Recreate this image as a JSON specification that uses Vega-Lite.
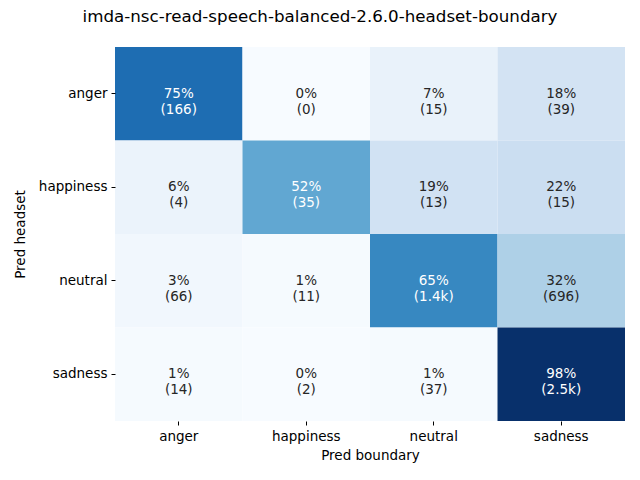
{
  "$schema": "https://vega.github.io/schema/vega-lite/v6.json",
  "width": 510,
  "height": 374,
  "autosize": "none",
  "padding": {"left": 115, "top": 47, "right": 15, "bottom": 59},
  "title": {"text": "imda-nsc-read-speech-balanced-2.6.0-headset-boundary", "fontSize": 16.7, "font": "DejaVu Sans", "fontWeight": "normal", "color": "black", "offset": 21, "dx": -50},
  "config": {"view": {"stroke": null}, "font": "DejaVu Sans"},
  "data": {"values": [
    {"headset": "anger", "boundary": "anger", "pct": 0.75, "label": "75%\n(166)"},
    {"headset": "anger", "boundary": "happiness", "pct": 0.0, "label": "0%\n(0)"},
    {"headset": "anger", "boundary": "neutral", "pct": 0.07, "label": "7%\n(15)"},
    {"headset": "anger", "boundary": "sadness", "pct": 0.18, "label": "18%\n(39)"},
    {"headset": "happiness", "boundary": "anger", "pct": 0.06, "label": "6%\n(4)"},
    {"headset": "happiness", "boundary": "happiness", "pct": 0.52, "label": "52%\n(35)"},
    {"headset": "happiness", "boundary": "neutral", "pct": 0.19, "label": "19%\n(13)"},
    {"headset": "happiness", "boundary": "sadness", "pct": 0.22, "label": "22%\n(15)"},
    {"headset": "neutral", "boundary": "anger", "pct": 0.03, "label": "3%\n(66)"},
    {"headset": "neutral", "boundary": "happiness", "pct": 0.01, "label": "1%\n(11)"},
    {"headset": "neutral", "boundary": "neutral", "pct": 0.65, "label": "65%\n(1.4k)"},
    {"headset": "neutral", "boundary": "sadness", "pct": 0.32, "label": "32%\n(696)"},
    {"headset": "sadness", "boundary": "anger", "pct": 0.01, "label": "1%\n(14)"},
    {"headset": "sadness", "boundary": "happiness", "pct": 0.0, "label": "0%\n(2)"},
    {"headset": "sadness", "boundary": "neutral", "pct": 0.01, "label": "1%\n(37)"},
    {"headset": "sadness", "boundary": "sadness", "pct": 0.98, "label": "98%\n(2.5k)"}
  ]},
  "encoding": {
    "x": {"field": "boundary", "type": "nominal", "sort": ["anger", "happiness", "neutral", "sadness"],
      "scale": {"paddingInner": 0, "paddingOuter": 0},
      "axis": {"title": "Pred boundary", "labelAngle": 0, "labelFontSize": 13.5, "titleFontSize": 13.5, "titleFontWeight": "normal", "labelColor": "black", "titleColor": "black", "domain": false, "tickSize": 4, "tickColor": "black", "labelPadding": 4, "titlePadding": 6}},
    "y": {"field": "headset", "type": "nominal", "sort": ["anger", "happiness", "neutral", "sadness"],
      "scale": {"paddingInner": 0, "paddingOuter": 0},
      "axis": {"title": "Pred headset", "labelFontSize": 13.5, "titleFontSize": 13.5, "titleFontWeight": "normal", "labelColor": "black", "titleColor": "black", "domain": false, "tickSize": 4, "tickColor": "black", "labelPadding": 4, "titlePadding": 11}}
  },
  "layer": [
    {"mark": {"type": "rect"},
      "encoding": {"color": {"field": "pct", "type": "quantitative", "legend": null,
        "scale": {"domain": [0, 0.1225, 0.245, 0.3675, 0.49, 0.6125, 0.735, 0.8575, 0.98],
          "range": ["#f7fbff", "#deebf7", "#c6dbef", "#9ecae1", "#6baed6", "#4292c6", "#2171b5", "#08519c", "#08306b"]}}}},
    {"mark": {"type": "text", "fontSize": 13.5, "lineBreak": "\n", "lineHeight": 16, "baseline": "middle"},
      "encoding": {"text": {"field": "label"},
        "color": {"condition": {"test": "datum.pct > 0.45", "value": "white"}, "value": "#262626"}}}
  ]
}
